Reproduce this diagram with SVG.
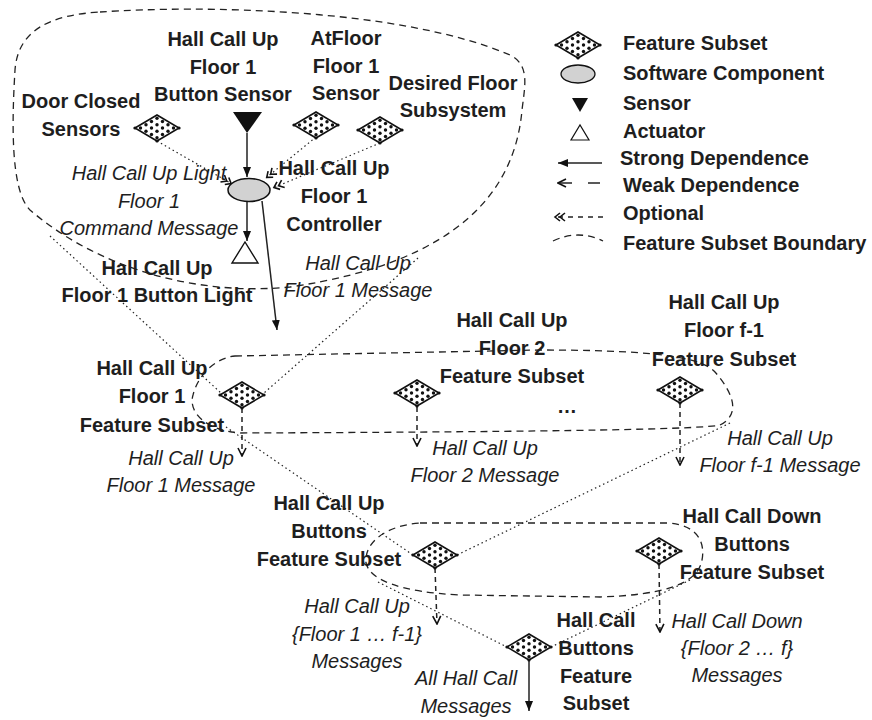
<svg xmlns="http://www.w3.org/2000/svg" xmlns:xlink="http://www.w3.org/1999/xlink" width="872" height="720" viewBox="0 0 872 720">
<style>
text{font-family:"Liberation Sans",Arial,sans-serif;font-size:20px;fill:#1e1e1e;text-anchor:middle}
.b{font-weight:bold}
.i{font-style:italic}
.l{text-anchor:start}
.bd{fill:none;stroke:#222;stroke-width:1.3;stroke-dasharray:7 5}
.dot{fill:none;stroke:#222;stroke-width:1.2;stroke-dasharray:1.5 3}
.weak{fill:none;stroke:#222;stroke-width:1.5;stroke-dasharray:5 4}
.strong{fill:none;stroke:#222;stroke-width:1.5}
</style>
<defs>
<g id="fs">
<polygon points="-22,0 0,-13 22,0 0,13" fill="#fff" stroke="#111" stroke-width="1.6"/>
<g fill="#111">
<circle cx="0" cy="-9.75" r="1.7"/>
<circle cx="5.5" cy="-6.5" r="1.7"/><circle cx="-5.5" cy="-6.5" r="1.7"/>
<circle cx="11" cy="-3.25" r="1.7"/><circle cx="0" cy="-3.25" r="1.7"/><circle cx="-11" cy="-3.25" r="1.7"/>
<circle cx="16.5" cy="0" r="1.7"/><circle cx="5.5" cy="0" r="1.7"/><circle cx="-5.5" cy="0" r="1.7"/><circle cx="-16.5" cy="0" r="1.7"/>
<circle cx="11" cy="3.25" r="1.7"/><circle cx="0" cy="3.25" r="1.7"/><circle cx="-11" cy="3.25" r="1.7"/>
<circle cx="5.5" cy="6.5" r="1.7"/><circle cx="-5.5" cy="6.5" r="1.7"/>
<circle cx="0" cy="9.75" r="1.7"/>
<circle cx="-22" cy="0" r="1.6"/><circle cx="22" cy="0" r="1.6"/><circle cx="0" cy="13" r="1.6"/>
</g>
</g>
<marker id="ms" viewBox="0 0 10 8" refX="10" refY="4" markerWidth="10" markerHeight="8" markerUnits="userSpaceOnUse" orient="auto">
<path d="M0,0 L10,4 L0,8 z" fill="#111"/>
</marker>
<marker id="mw" viewBox="-1 -1 10 10" refX="8" refY="4" markerWidth="10" markerHeight="10" markerUnits="userSpaceOnUse" orient="auto">
<path d="M0,0 L8,4 L0,8" fill="none" stroke="#111" stroke-width="1.6"/>
</marker>
<marker id="mo" viewBox="-1 -1 13 10" refX="11" refY="4" markerWidth="13" markerHeight="10" markerUnits="userSpaceOnUse" orient="auto">
<path d="M0,0 L5,4 L0,8 M5,0 L10,4 L5,8" fill="none" stroke="#111" stroke-width="1.6"/>
</marker>
</defs>
<rect width="872" height="720" fill="#fff"/>

<g id="boundaries">
<path class="bd" d="M100 12 C200 5,400 8,510 55 C530 65,525 85,522 110 C515 190,460 262,290 287 C200 296,100 270,30 210 C10 190,12 120,15 70 C18 30,50 15,100 12 Z"/>
<path class="bd" d="M235 356 L540 350 C640 350,700 355,715 372 C735 395,740 415,720 425 C700 430,500 432,240 433 C205 430,188 412,193 395 C198 375,215 358,235 356 Z"/>
<path class="bd" d="M420 523 L668 523 C700 525,705 545,702 560 C698 585,660 595,600 597 L460 595 C400 592,370 580,366 563 C364 540,390 525,420 523 Z"/>
</g>

<g id="connectors">
<line class="strong" x1="247" y1="133" x2="247" y2="177" marker-end="url(#ms)"/>
<line class="strong" x1="247" y1="202" x2="247" y2="241" marker-end="url(#ms)"/>
<line class="strong" x1="262" y1="201" x2="277" y2="330" marker-end="url(#ms)"/>
<line class="dot" x1="157" y1="141" x2="232" y2="184" marker-end="url(#mo)"/>
<line class="dot" x1="316" y1="137" x2="266" y2="178" marker-end="url(#mo)"/>
<line class="dot" x1="380" y1="143" x2="273" y2="188" marker-end="url(#mo)"/>
<line class="dot" x1="50" y1="236" x2="221" y2="393"/>
<line class="dot" x1="418" y1="258" x2="264" y2="393"/>
<line class="dot" x1="226" y1="427" x2="413" y2="555"/>
<line class="dot" x1="730" y1="423" x2="457" y2="555"/>
<line class="dot" x1="378" y1="582" x2="507" y2="647"/>
<line class="dot" x1="690" y1="580" x2="551" y2="647"/>
<line class="weak" x1="242" y1="408" x2="242" y2="456" marker-end="url(#mw)"/>
<line class="weak" x1="417" y1="407" x2="417" y2="446" marker-end="url(#mw)"/>
<line class="weak" x1="680" y1="403" x2="680" y2="465" marker-end="url(#mw)"/>
<line class="weak" x1="435" y1="568" x2="437" y2="624" marker-end="url(#mw)"/>
<line class="weak" x1="659" y1="564" x2="660" y2="632" marker-end="url(#mw)"/>
<line class="strong" x1="529" y1="660" x2="529" y2="711" marker-end="url(#ms)"/>
</g>

<g id="door-closed-sensors">
<use xlink:href="#fs" x="157" y="128"/>
<text class="b" x="81" y="108">Door Closed</text>
<text class="b" x="81" y="136">Sensors</text>
</g>
<g id="button-sensor">
<polygon points="233,112 262,112 247,133" fill="#111"/>
<text class="b" x="223" y="46">Hall Call Up</text>
<text class="b" x="223" y="74">Floor 1</text>
<text class="b" x="223" y="101">Button Sensor</text>
</g>
<g id="atfloor-sensor">
<use xlink:href="#fs" x="316" y="125"/>
<text class="b" x="346" y="45">AtFloor</text>
<text class="b" x="346" y="73">Floor 1</text>
<text class="b" x="346" y="100">Sensor</text>
</g>
<g id="desired-floor">
<use xlink:href="#fs" x="380" y="130"/>
<text class="b" x="453" y="90">Desired Floor</text>
<text class="b" x="453" y="117">Subsystem</text>
</g>
<g id="controller">
<ellipse cx="249" cy="190" rx="21" ry="11.5" fill="#d2d2d2" stroke="#111" stroke-width="1.5"/>
<text class="b" x="334" y="175">Hall Call Up</text>
<text class="b" x="334" y="203">Floor 1</text>
<text class="b" x="334" y="231">Controller</text>
</g>
<g id="command-message">
<text class="i" x="149" y="180">Hall Call Up Light</text>
<text class="i" x="149" y="208">Floor 1</text>
<text class="i" x="149" y="235">Command Message</text>
</g>
<g id="button-light">
<polygon points="232,263 258,263 245,242" fill="#fff" stroke="#111" stroke-width="1.4"/>
<text class="b" x="157" y="275">Hall Call Up</text>
<text class="b" x="157" y="302">Floor 1 Button Light</text>
</g>
<g id="floor1-message-top">
<text class="i" x="358" y="270">Hall Call Up</text>
<text class="i" x="358" y="297">Floor 1 Message</text>
</g>

<g id="floor1-subset">
<use xlink:href="#fs" x="242" y="395"/>
<text class="b" x="152" y="375">Hall Call Up</text>
<text class="b" x="152" y="403">Floor 1</text>
<text class="b" x="152" y="432">Feature Subset</text>
<text class="i" x="181" y="465">Hall Call Up</text>
<text class="i" x="181" y="492">Floor 1 Message</text>
</g>
<g id="floor2-subset">
<use xlink:href="#fs" x="417" y="393"/>
<text class="b" x="512" y="327">Hall Call Up</text>
<text class="b" x="512" y="355">Floor 2</text>
<text class="b" x="512" y="383">Feature Subset</text>
<text class="i" x="485" y="455">Hall Call Up</text>
<text class="i" x="485" y="482">Floor 2 Message</text>
<text class="b" x="567" y="413">…</text>
</g>
<g id="floorf1-subset">
<use xlink:href="#fs" x="680" y="390"/>
<text class="b" x="724" y="309">Hall Call Up</text>
<text class="b" x="724" y="337">Floor f-1</text>
<text class="b" x="724" y="366">Feature Subset</text>
<text class="i" x="780" y="445">Hall Call Up</text>
<text class="i" x="780" y="472">Floor f-1 Message</text>
</g>

<g id="up-buttons-subset">
<use xlink:href="#fs" x="435" y="555"/>
<text class="b" x="329" y="510">Hall Call Up</text>
<text class="b" x="329" y="538">Buttons</text>
<text class="b" x="329" y="566">Feature Subset</text>
<text class="i" x="357" y="613">Hall Call Up</text>
<text class="i" x="357" y="641">{Floor 1 … f-1}</text>
<text class="i" x="357" y="668">Messages</text>
</g>
<g id="down-buttons-subset">
<use xlink:href="#fs" x="659" y="551"/>
<text class="b" x="752" y="523">Hall Call Down</text>
<text class="b" x="752" y="551">Buttons</text>
<text class="b" x="752" y="579">Feature Subset</text>
<text class="i" x="737" y="628">Hall Call Down</text>
<text class="i" x="737" y="655">{Floor 2 … f}</text>
<text class="i" x="737" y="682">Messages</text>
</g>
<g id="hall-call-buttons-subset">
<use xlink:href="#fs" x="529" y="647"/>
<text class="b" x="596" y="627">Hall Call</text>
<text class="b" x="596" y="655">Buttons</text>
<text class="b" x="596" y="683">Feature</text>
<text class="b" x="596" y="710">Subset</text>
<text class="i" x="466" y="685">All Hall Call</text>
<text class="i" x="466" y="713">Messages</text>
</g>

<g id="legend">
<use xlink:href="#fs" x="578" y="45"/>
<ellipse cx="578" cy="74" rx="17" ry="9" fill="#d2d2d2" stroke="#111" stroke-width="1.3"/>
<polygon points="572,98 588,98 580,112" fill="#111"/>
<polygon points="571,140 589,140 580,125" fill="#fff" stroke="#111" stroke-width="1.2"/>
<line class="strong" x1="602" y1="163" x2="558" y2="163" marker-end="url(#ms)"/>
<line class="strong" x1="600" y1="183" x2="588" y2="183"/>
<line class="strong" x1="572" y1="183" x2="558" y2="183" marker-end="url(#mw)"/>
<line class="strong" x1="603" y1="217" x2="554" y2="217" stroke-dasharray="5 5" marker-end="url(#mo)"/>
<path class="bd" d="M553 241 Q578 229 603 241" stroke-dasharray="5 4"/>
<text class="b l" x="623" y="50">Feature Subset</text>
<text class="b l" x="623" y="80">Software Component</text>
<text class="b l" x="623" y="110">Sensor</text>
<text class="b l" x="623" y="138">Actuator</text>
<text class="b l" x="620" y="165">Strong Dependence</text>
<text class="b l" x="623" y="192">Weak Dependence</text>
<text class="b l" x="623" y="220">Optional</text>
<text class="b l" x="623" y="250">Feature Subset Boundary</text>
</g>
</svg>
